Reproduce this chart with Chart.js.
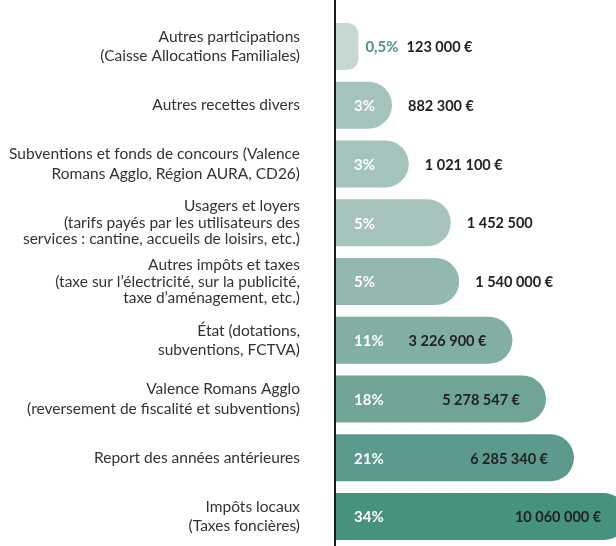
<!DOCTYPE html>
<html>
<head>
<meta charset="utf-8">
<script src="https://cdn.jsdelivr.net/npm/chart.js@4.4.0/dist/chart.umd.min.js"></script>
<style>
  html, body { margin: 0; padding: 0; background: #fff; }
  #wrap { width: 616px; height: 546px; position: relative; }
</style>
</head>
<body>
<div id="wrap"><canvas id="recettes"></canvas></div>
<script>
var categories = [
  ['Autres participations', '(Caisse Allocations Familiales)'],
  ['Autres recettes divers'],
  ['Subventions et fonds de concours (Valence', 'Romans Agglo, Région AURA, CD26)'],
  ['Usagers et loyers', '(tarifs payés par les utilisateurs des', 'services : cantine, accueils de loisirs, etc.)'],
  ['Autres impôts et taxes', '(taxe sur l\u2019électricité, sur la publicité,', 'taxe d\u2019aménagement, etc.)'],
  ['État (dotations,', 'subventions, FCTVA)'],
  ['Valence Romans Agglo', '(reversement de fiscalité et subventions)'],
  ['Report des années antérieures'],
  ['Impôts locaux', '(Taxes foncières)']
];
var percents = ['0,5%', '3%', '3%', '5%', '5%', '11%', '18%', '21%', '34%'];
var amounts = ['123 000 €', '882 300 €', '1 021 100 €', '1 452 500', '1 540 000 €',
  '3 226 900 €', '5 278 547 €', '6 285 340 €', '10 060 000 €'];
// bar lengths as drawn in the infographic (not proportional to the amounts)
var barLengths = [8, 20, 26, 41, 44, 63, 75, 85, 104];
var barColors = ['#c5d8d4', '#a5c3bd', '#a5c3bd', '#a6c3bd', '#93b8b1',
  '#82afa5', '#6fa497', '#5c9a8e', '#47917f'];

var barText = {
  id: 'barText',
  afterDatasetsDraw: function (chart) {
    var ctx = chart.ctx;
    var area = chart.chartArea;
    var meta = chart.getDatasetMeta(0);
    ctx.save();
    // vertical axis line, full height
    ctx.fillStyle = '#1c1c1c';
    ctx.fillRect(area.left - 2, 0, 2, chart.height);

    ctx.textBaseline = 'middle';
    meta.data.forEach(function (bar, i) {
      var end = bar.x;
      var y = bar.y + 1;
      var w = end - area.left;
      var next = end + 16;
      ctx.font = 'bold 15px Lato';
      if (w < 30) {
        ctx.fillStyle = '#4b9585';
        ctx.textAlign = 'left';
        ctx.fillText(percents[i], end + 7, y);
        next = end + 7 + ctx.measureText(percents[i]).width + 8;
      } else {
        ctx.fillStyle = '#ffffff';
        ctx.textAlign = 'left';
        ctx.fillText(percents[i], area.left + 18, y);
      }
      ctx.font = 'bold 14.5px Lato';
      ctx.fillStyle = '#222222';
      if (w > 150) {
        ctx.textAlign = 'right';
        ctx.fillText(amounts[i], end - 26, y);
      } else {
        ctx.textAlign = 'left';
        ctx.fillText(amounts[i], next, y);
      }
    });
    ctx.restore();
  }
};

new Chart(document.getElementById('recettes'), {
  type: 'bar',
  data: {
    labels: categories,
    datasets: [{
      data: barLengths,
      backgroundColor: barColors,
      borderRadius: 24,
      barPercentage: 0.8,
      categoryPercentage: 1
    }]
  },
  options: {
    indexAxis: 'y',
    responsive: true,
    maintainAspectRatio: false,
    animation: false,
    layout: { padding: { top: 17, right: 0, bottom: 0, left: 0 } },
    plugins: {
      legend: { display: false },
      tooltip: { enabled: false }
    },
    scales: {
      x: { display: false, min: 0, max: 100 },
      y: {
        grid: { display: false, drawTicks: false },
        border: { display: false },
        afterFit: function (scale) {
          scale.width = 336;
          scale.paddingTop = 0;
          scale.paddingBottom = 0;
        },
        ticks: {
          padding: 36,
          color: '#333333',
          font: function (c) {
            var lines = categories[c.index] ? categories[c.index].length : 1;
            return { family: 'Lato', size: 15.5, lineHeight: lines > 2 ? '16.5px' : '19.5px' };
          }
        }
      }
    }
  },
  plugins: [barText]
});
</script>
</body>
</html>
